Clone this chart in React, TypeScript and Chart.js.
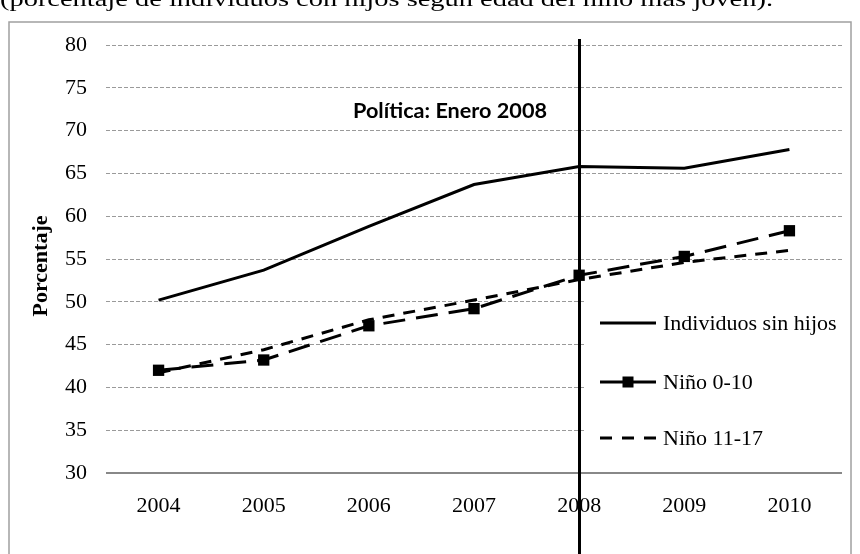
import React, { useEffect, useRef } from "react";
import { Chart, registerables } from "chart.js";

Chart.register(...registerables);

// ---- data ----
const years = ["2004", "2005", "2006", "2007", "2008", "2009", "2010"];
const sinHijos = [50.2, 53.7, 58.8, 63.7, 65.8, 65.6, 67.8];
const nino0010 = [42.0, 43.2, 47.2, 49.2, 53.1, 55.3, 58.3];
const nino1117 = [41.7, 44.4, 47.9, 50.2, 52.6, 54.6, 56.0];
const seriesNames = ["Individuos sin hijos", "Niño 0-10", "Niño 11-17"];
const yMin = 30;
const yMax = 80;
const yStep = 5;
const policyYear = "2008";
const policyLabel = "Política: Enero 2008";
const yTitle = "Porcentaje";
const caption = "(porcentaje de individuos con hijos según edad del niño más joven).";

const SERIF = "'Liberation Serif', 'Times New Roman', serif";

function drawFit(ctx: CanvasRenderingContext2D, text: string, x: number, y: number, width: number, font: string) {
  ctx.save();
  ctx.font = font;
  const w = ctx.measureText(text).width;
  ctx.translate(x, y);
  ctx.scale(width / w, 1);
  ctx.fillText(text, 0, 0);
  ctx.restore();
}

const extras = {
  id: "extras",
  beforeDraw(chart: any) {
    const ctx = chart.ctx as CanvasRenderingContext2D;
    ctx.save();
    ctx.fillStyle = "#ffffff";
    ctx.fillRect(0, 0, chart.width, chart.height);
    // caption above (cut off)
    ctx.fillStyle = "#000";
    ctx.textBaseline = "alphabetic";
    drawFit(ctx, caption, 0, 6, 773, `22px ${SERIF}`);
    // frame
    ctx.strokeStyle = "#a0a0a0";
    ctx.lineWidth = 1.5;
    ctx.strokeRect(9, 22, 842, 600);
    ctx.restore();
  },
  beforeDatasetsDraw(chart: any) {
    const ctx = chart.ctx as CanvasRenderingContext2D;
    const { left, right, bottom } = chart.chartArea;
    ctx.save();
    // legend background covering grid lines
    ctx.fillStyle = "#ffffff";
    ctx.fillRect(585, 290, 258, 172);
    // x axis line
    ctx.strokeStyle = "#888888";
    ctx.lineWidth = 2;
    ctx.beginPath();
    ctx.moveTo(left, bottom);
    ctx.lineTo(right, bottom);
    ctx.stroke();
    ctx.restore();
  },
  afterDatasetsDraw(chart: any) {
    const ctx = chart.ctx as CanvasRenderingContext2D;
    const xs = chart.scales.x;
    const ys = chart.scales.y;
    ctx.save();
    // policy vertical line
    const px = Math.round(xs.getPixelForValue(years.indexOf(policyYear))) + 0.5;
    ctx.strokeStyle = "#000";
    ctx.lineWidth = 3;
    ctx.beginPath();
    ctx.moveTo(px, ys.getPixelForValue(yMax) - 6);
    ctx.lineTo(px, chart.height + 5);
    ctx.stroke();

    // policy label
    ctx.fillStyle = "#000";
    ctx.textBaseline = "alphabetic";
    drawFit(ctx, policyLabel, 353, 118, 194, `bold 20px Lato, 'Liberation Sans', sans-serif`);

    // y title
    ctx.save();
    ctx.translate(41, 266);
    ctx.rotate(-Math.PI / 2);
    ctx.font = `bold 22px ${SERIF}`;
    ctx.textAlign = "center";
    ctx.textBaseline = "middle";
    ctx.fillText(yTitle, 0, 0);
    ctx.restore();

    // legend
    const ds = chart.data.datasets;
    const rows = [323, 382, 438];
    const x0 = 600;
    const x1 = 656;
    ctx.font = `22px ${SERIF}`;
    ctx.textBaseline = "middle";
    ctx.textAlign = "left";
    ctx.lineCap = "butt";
    rows.forEach((ry, i) => {
      ctx.strokeStyle = "#000";
      ctx.lineWidth = 3;
      if (i === 0) {
        ctx.setLineDash([]);
        ctx.beginPath();
        ctx.moveTo(x0, ry);
        ctx.lineTo(x1, ry);
        ctx.stroke();
      } else if (i === 1) {
        ctx.setLineDash([]);
        ctx.beginPath();
        ctx.moveTo(x0, ry);
        ctx.lineTo(x1, ry);
        ctx.stroke();
        ctx.fillStyle = "#000";
        ctx.fillRect(622.5, ry - 5.5, 11, 11);
      } else {
        ctx.setLineDash([12, 10]);
        ctx.beginPath();
        ctx.moveTo(x0, ry);
        ctx.lineTo(x1, ry);
        ctx.stroke();
        ctx.setLineDash([]);
      }
      ctx.fillStyle = "#000";
      ctx.fillText(ds[i].label, 663, ry + 1);
    });
    ctx.restore();
  },
};

export default function App() {
  const ref = useRef<HTMLCanvasElement | null>(null);

  useEffect(() => {
    if (!ref.current) return;
    const chart = new Chart(ref.current, {
      type: "line",
      data: {
        labels: years,
        datasets: [
          {
            label: seriesNames[0],
            data: sinHijos,
            borderColor: "#000",
            backgroundColor: "#000",
            borderWidth: 3,
            pointRadius: 0,
            tension: 0,
          },
          {
            label: seriesNames[1],
            data: nino0010,
            borderColor: "#000",
            backgroundColor: "#000",
            borderWidth: 3,
            borderDash: [22, 11],
            pointStyle: "rect",
            pointRadius: 8,
            pointBorderWidth: 0,
            pointBackgroundColor: "#000",
            tension: 0,
          },
          {
            label: seriesNames[2],
            data: nino1117,
            borderColor: "#000",
            backgroundColor: "#000",
            borderWidth: 3,
            borderDash: [12, 9],
            pointRadius: 0,
            tension: 0,
          },
        ],
      },
      options: {
        responsive: false,
        animation: false,
        devicePixelRatio: 1,
        layout: { padding: { top: 45, right: 18, left: 0, bottom: 0 } },
        plugins: {
          legend: { display: false },
          tooltip: { enabled: false },
          title: { display: false },
        },
        scales: {
          x: {
            type: "category",
            offset: true,
            grid: { display: false, drawTicks: false },
            border: { display: false },
            ticks: {
              color: "#000",
              font: { family: SERIF, size: 22 },
              padding: 20,
              maxRotation: 0,
              autoSkip: false,
            },
            afterFit: (s: any) => {
              s.height = 81;
            },
          },
          y: {
            min: yMin,
            max: yMax,
            ticks: {
              stepSize: yStep,
              color: "#000",
              font: { family: SERIF, size: 22 },
              padding: 19,
            },
            grid: { color: "#9a9a9a", lineWidth: 1, drawTicks: false },
            border: { display: false, dash: [4, 2] },
            afterFit: (s: any) => {
              s.width = 106;
            },
          },
        },
      },
      plugins: [extras],
    });
    return () => chart.destroy();
  }, []);

  return (
    <div style={{ position: "absolute", left: 0, top: 0, width: 860, height: 554, background: "#fff" }}>
      <canvas ref={ref} width={860} height={554} style={{ display: "block", width: 860, height: 554 }} />
    </div>
  );
}
